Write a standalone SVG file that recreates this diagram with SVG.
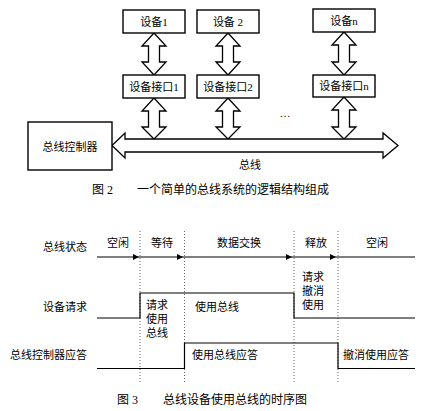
<svg xmlns="http://www.w3.org/2000/svg" width="432" height="411" viewBox="0 0 432 411">
<style>
.bx{fill:#fff;stroke:#000;stroke-width:1.4}
.ar{fill:#fff;stroke:#000;stroke-width:1.3;stroke-linejoin:miter}
.ln{fill:none;stroke:#000;stroke-width:1.2}
.dt{fill:none;stroke:#555;stroke-width:0.9;stroke-dasharray:1,2}
text{font-family:"Liberation Serif","Noto Sans CJK SC",serif;font-size:11px;fill:#000}
.c{text-anchor:middle}
.e{text-anchor:end}
.cap{font-size:12px}
</style>
<defs>
<marker id="ah" viewBox="0 0 6 6" refX="6" refY="3" markerWidth="6" markerHeight="6" markerUnits="userSpaceOnUse" orient="auto">
<path d="M0,0 L6,3 L0,6 Z" fill="#000"/>
</marker>
</defs>
<rect width="432" height="411" fill="#fff"/>

<g id="connectors">
<polygon class="ar" points="154,33 166,46 159.5,46 159.5,62 166,62 154,75 142,62 148.5,62 148.5,46 142,46"/>
<polygon class="ar" points="228,33 240,46 233.5,46 233.5,62 240,62 228,75 216,62 222.5,62 222.5,46 216,46"/>
<polygon class="ar" points="344,32 356,45 349.5,45 349.5,62 356,62 344,75 332,62 338.5,62 338.5,45 332,45"/>
<polygon class="ar" points="154,98 166,111 159.5,111 159.5,127 166,127 154,139 142,127 148.5,127 148.5,111 142,111"/>
<polygon class="ar" points="228,98 240,111 233.5,111 233.5,127 240,127 228,139 216,127 222.5,127 222.5,111 216,111"/>
<polygon class="ar" points="344,97 356,110 349.5,110 349.5,127 356,127 344,139 332,127 338.5,127 338.5,110 332,110"/>
<polygon id="bus" class="ar" points="112,145.5 125,133 125,139 383,139 383,133 398,145.5 383,158 383,152 125,152 125,158"/>
</g>

<g id="dev1"><rect class="bx" x="123" y="10" width="62" height="23"/><text class="c" x="154" y="25.5">设备1</text></g>
<g id="dev2"><rect class="bx" x="197" y="10" width="62" height="23"/><text class="c" x="228" y="25.5">设备 2</text></g>
<g id="devn"><rect class="bx" x="313" y="9" width="62" height="23"/><text class="c" x="344" y="24.5">设备n</text></g>
<g id="if1"><rect class="bx" x="123" y="75" width="62" height="23"/><text class="c" x="154" y="90.5">设备接口1</text></g>
<g id="if2"><rect class="bx" x="197" y="75" width="62" height="23"/><text class="c" x="228" y="90.5">设备接口2</text></g>
<g id="ifn"><rect class="bx" x="313" y="75" width="62" height="22"/><text class="c" x="344" y="90">设备接口n</text></g>
<g id="ctrl"><rect class="bx" x="28" y="122" width="84" height="48"/><text class="c" x="70" y="151">总线控制器</text></g>
<text class="c" x="285" y="117">…</text>
<text class="c" x="250" y="169">总线</text>
<text class="cap" x="92" y="194">图 2</text>
<text class="cap" x="137" y="194">一个简单的总线系统的逻辑结构组成</text>

<g id="timing">
<line class="dt" x1="140" y1="231" x2="140" y2="383"/>
<line class="dt" x1="184.5" y1="231" x2="184.5" y2="383"/>
<line class="dt" x1="294" y1="231" x2="294" y2="383"/>
<line class="dt" x1="338" y1="231" x2="338" y2="383"/>
<line class="ln" x1="97" y1="257" x2="139" y2="257" marker-end="url(#ah)"/>
<line class="ln" x1="139" y1="257" x2="183" y2="257" marker-end="url(#ah)"/>
<line class="ln" x1="183" y1="257" x2="292" y2="257" marker-end="url(#ah)"/>
<line class="ln" x1="292" y1="257" x2="336" y2="257" marker-end="url(#ah)"/>
<line class="ln" x1="336" y1="257" x2="415" y2="257"/>
<polyline class="ln" points="97,318 140,318 140,293 294,293 294,318 415,318"/>
<polyline class="ln" points="97,368.5 184.5,368.5 184.5,343 338,343 338,368.5 415,368.5"/>
<text class="e" x="87" y="251">总线状态</text>
<text class="e" x="87" y="311">设备请求</text>
<text class="e" x="87" y="359">总线控制器应答</text>
<text class="c" x="118" y="247">空闲</text>
<text class="c" x="162" y="247">等待</text>
<text class="c" x="239" y="247">数据交换</text>
<text class="c" x="316" y="247">释放</text>
<text class="c" x="377" y="247">空闲</text>
<text class="c" x="157" y="309">请求</text>
<text class="c" x="157" y="323">使用</text>
<text class="c" x="157" y="337">总线</text>
<text x="195" y="311">使用总线</text>
<text class="c" x="313" y="281">请求</text>
<text class="c" x="313" y="295">撤消</text>
<text class="c" x="313" y="309">使用</text>
<text x="192" y="359">使用总线应答</text>
<text x="343" y="359">撤消使用应答</text>
</g>
<text class="cap" x="117" y="404">图 3</text>
<text class="cap" x="163" y="404">总线设备使用总线的时序图</text>
</svg>
